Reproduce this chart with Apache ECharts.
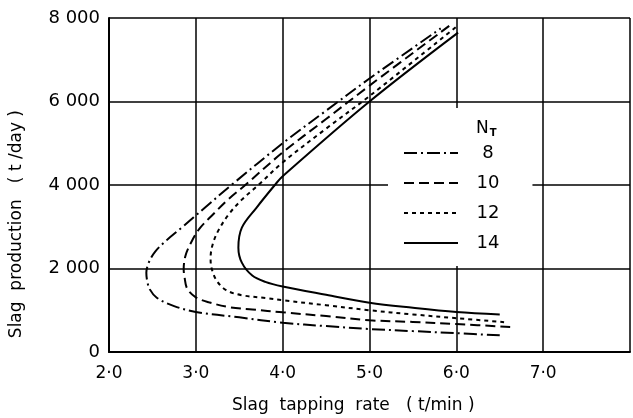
<!DOCTYPE html>
<html>
<head>
<meta charset="utf-8">
<script src="https://cdn.jsdelivr.net/npm/echarts@6/dist/echarts.min.js"></script>
<style>
html,body{margin:0;padding:0;background:#fff;}
#chart{width:633px;height:418px;}
</style>
</head>
<body>
<div id="chart"></div>
<script>
// Series names (N_T values)
var seriesNames = ['8', '10', '12', '14'];
// Curves: [slag tapping rate (t/min), slag production (t/day)]
var nt8 = [[6.5,400],[6.0,450],[5.5,500],[5.0,550],[4.5,620],[4.0,700],[3.5,830],[3.0,960],[2.75,1100],[2.55,1300],[2.47,1500],[2.44,1700],[2.43,1900],[2.46,2150],[2.53,2400],[2.66,2670],[2.85,3000],[3.1,3450],[3.41,4000],[4.0,5000],[4.5,5780],[5.0,6550],[5.82,7750]];
var nt10 = [[6.62,600],[6.0,670],[5.5,720],[5.0,760],[4.5,860],[4.0,950],[3.65,1020],[3.4,1070],[3.15,1190],[3.0,1310],[2.9,1520],[2.87,1790],[2.86,1980],[2.88,2300],[2.94,2600],[3.04,2950],[3.2,3300],[3.37,3650],[3.57,4000],[4.0,4780],[4.5,5580],[5.0,6380],[5.93,7830]];
var nt12 = [[6.55,715],[6.0,810],[5.5,900],[5.0,1000],[4.5,1120],[4.0,1240],[3.81,1290],[3.53,1360],[3.35,1480],[3.24,1710],[3.18,2020],[3.17,2260],[3.2,2620],[3.27,2950],[3.38,3300],[3.53,3650],[3.72,4000],[4.0,4540],[4.5,5350],[5.0,6130],[6.0,7790]];
var nt14 = [[6.5,900],[6.0,960],[5.5,1060],[5.0,1180],[4.5,1370],[4.0,1570],[3.8,1680],[3.65,1830],[3.53,2140],[3.49,2500],[3.53,2980],[3.7,3460],[3.91,4000],[4.0,4210],[5.0,6000],[6.02,7650]];
var xTickLabels = {2:'2·0', 3:'3·0', 4:'4·0', 5:'5·0', 6:'6·0', 7:'7·0', 8:''};
var yTickLabels = {0:'0', 2000:'2 000', 4000:'4 000', 6000:'6 000', 8000:'8 000'};

var FONT = 'DejaVu Sans';
var chart = echarts.init(document.getElementById('chart'), null, {renderer:'canvas'});
var dashStyles = [[13,4,2,4],[10,5],[4,4],'solid'];
var allData = [nt8, nt10, nt12, nt14];
var series = allData.map(function(d, i){
  return {
    name: seriesNames[i], type: 'line', data: d, smooth: 0.35,
    symbol: 'none', showSymbol: false,
    lineStyle: {color:'#000', width: 2, type: dashStyles[i]},
    itemStyle: {color:'#000'},
    z: 3
  };
});

chart.setOption({
  animation: false,
  backgroundColor: '#fff',
  grid: {left: 109, top: 18, width: 530, height: 334, containLabel: false},
  xAxis: {
    type: 'value', min: 2, max: 8, interval: 1,
    axisLine: {show: true, onZero: false, lineStyle: {color:'#000', width: 2}},
    axisTick: {show: false},
    splitLine: {show: true, lineStyle: {color:'#000', width: 1.5}},
    axisLabel: {color:'#000', fontFamily: FONT, fontSize: 17, margin: 13,
      formatter: function(v){ return xTickLabels[v] !== undefined ? xTickLabels[v] : ''; }}
  },
  yAxis: {
    type: 'value', min: 0, max: 8000, interval: 2000,
    axisLine: {show: true, onZero: false, lineStyle: {color:'#000', width: 2}},
    axisTick: {show: false},
    splitLine: {show: true, lineStyle: {color:'#000', width: 1.5}},
    axisLabel: {color:'#000', fontFamily: FONT, fontSize: 18, margin: 9,
      formatter: function(v){ return yTickLabels[v] !== undefined ? yTickLabels[v] : ''; }}
  },
  title: {
    text: '{n|N}{t|T}', left: 471, top: 114, z: 20,
    textStyle: {fontWeight: 'normal', rich: {
      n: {fontFamily: FONT, fontSize: 17, fontWeight: 'normal', color:'#000'},
      t: {fontFamily: FONT, fontSize: 10, color:'#000', fontWeight:'bold', padding:[9,0,0,1]}
    }}
  },
  legend: {
    orient: 'vertical', left: 388, top: 108,
    padding: [36, 33, 14, 15],
    backgroundColor: '#fff',
    itemWidth: 54, itemHeight: 14, itemGap: 12,
    itemStyle: {opacity: 0},
    data: seriesNames,
    formatter: '{a|{name}}',
    textStyle: {rich: {a: {fontFamily: FONT, fontSize: 18, color:'#000', width: 50, align:'center'}}},
    z: 10
  },
  graphic: [
    {type:'text', left: 232, top: 397, z: 30, style:{text:'Slag  tapping  rate   ( t/min )', font:'17px "DejaVu Sans"', fill:'#000'}},
    {type:'text', left: 8, top: 110, z: 30, rotation: Math.PI/2,
     style:{text:'Slag  production   ( t /day )', font:'17px "DejaVu Sans"', fill:'#000'}}
  ],
  series: series
});
</script>
</body>
</html>
